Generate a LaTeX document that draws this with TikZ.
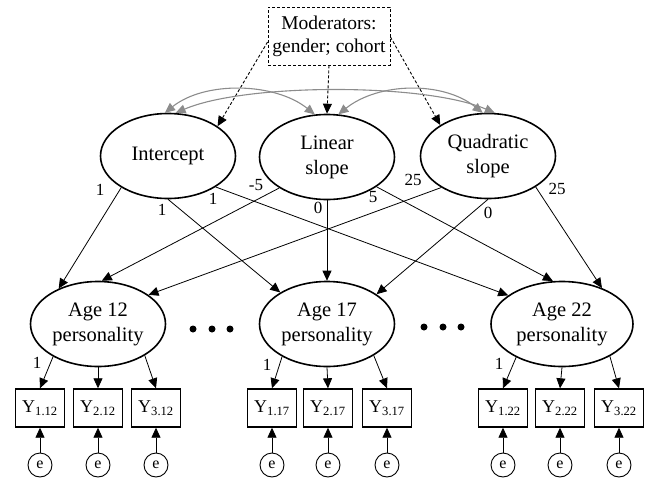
\documentclass[tikz,border=0pt]{standalone}
\usepackage{fontspec}
\setmainfont{Liberation Serif}
\usetikzlibrary{arrows.meta,shapes.geometric}
\definecolor{covgray}{RGB}{140,140,140}
\begin{document}
\begin{tikzpicture}[x=1pt,y=-1pt,
  lat/.style={ellipse,draw,line width=1.6pt,minimum width=135pt,minimum height=85pt,inner sep=0pt,align=center,font=\fontsize{20.5}{25}\selectfont},
  obs/.style={rectangle,draw,line width=1.4pt,minimum width=49pt,minimum height=38pt,inner sep=0pt,font=\fontsize{18}{20}\selectfont},
  err/.style={circle,draw,line width=0.9pt,minimum size=24pt,inner sep=0pt,font=\fontsize{16}{18}\selectfont},
  arr/.style={-{Triangle[length=10pt,width=9pt]},line width=0.8pt},
  cov/.style={{Triangle[length=10pt,width=9pt]}-{Triangle[length=10pt,width=9pt]},line width=1.1pt,draw=covgray,fill=none},
  modarr/.style={-{Triangle[length=10pt,width=9pt]},line width=0.9pt,dash pattern=on 3pt off 2pt},
  lbl/.style={font=\fontsize{17}{19}\selectfont,inner sep=0pt},
  dotnode/.style={circle,fill,minimum size=7pt,inner sep=0pt}]
\useasboundingbox (0,0) rectangle (651,482);

% moderators
\node[draw,dash pattern=on 3pt off 2pt,line width=0.9pt,minimum width=122pt,minimum height=58pt,align=center,inner sep=0pt,font=\fontsize{19.5}{23}\selectfont] (mod) at (329,36) {Moderators:\\gender; cohort};

% growth factors
\node[lat] (int) at (168,156) {Intercept};
\node[lat] (lin) at (327,157) {Linear\\slope};
\node[lat] (quad) at (488,156) {Quadratic\\slope};

% age latents
\node[lat] (a12) at (98,324) {Age 12\\personality};
\node[lat] (a17) at (327,324) {Age 17\\personality};
\node[lat,minimum width=142pt] (a22) at (562,324) {Age 22\\personality};

% dots
\node[dotnode] (d1) at (193,329) {};
\node[dotnode] (d2) at (212,329) {};
\node[dotnode] (d3) at (230,329) {};
\node[dotnode] (d4) at (424,327) {};
\node[dotnode] (d5) at (443,327) {};
\node[dotnode] (d6) at (461,327) {};

% observed
\node[obs] (y112) at (40,408) {Y\textsubscript{1.12}};
\node[obs] (y212) at (98,408) {Y\textsubscript{2.12}};
\node[obs] (y312) at (156,408) {Y\textsubscript{3.12}};
\node[obs] (y117) at (272,408) {Y\textsubscript{1.17}};
\node[obs] (y217) at (328,408) {Y\textsubscript{2.17}};
\node[obs] (y317) at (387,408) {Y\textsubscript{3.17}};
\node[obs] (y122) at (503,408) {Y\textsubscript{1.22}};
\node[obs] (y222) at (560,408) {Y\textsubscript{2.22}};
\node[obs] (y322) at (619,408) {Y\textsubscript{3.22}};

% errors
\foreach \n/\x in {112/40,212/98,312/156,117/272,217/328,317/387,122/503,222/560,322/619}{
  \node[err] (e\n) at (\x,465) {e};
  \draw[arr] (e\n) -- (y\n);
}

% moderator arrows
\path (mod.west) ++(0,6) coordinate (mw);
\path (mod.east) ++(0,1) coordinate (me);
\draw[modarr] (mw) -- (int.31);
\draw[modarr] (mod.south) -- (lin.north);
\draw[modarr] (me) -- (quad.147);

% covariances
\draw[cov] (int.94) .. controls +(40,-32) and +(-40,-32) .. (lin.106);
\draw[cov] (lin.75) .. controls +(40,-32) and +(-40,-32) .. (quad.97);
\draw[cov] (int.80) .. controls +(70,-30) and +(-70,-30) .. (quad.81);

% loadings growth -> ages
\draw[arr] (int.214) -- (a12.138);
\draw[arr] (int.270) -- (a17.146);
\draw[arr] (int.327) -- (a22.152);
\draw[arr] (lin.213) -- (a12.85);
\draw[arr] (lin.270) -- (a17.90);
\draw[arr] (lin.329) -- (a22.102);
\draw[arr] (quad.214) -- (a12.30);
\draw[arr] (quad.270) -- (a17.31);
\draw[arr] (quad.327) -- (a22.42);

\node[lbl] (l1) at (100,190) {1};
\node[lbl] (l2) at (162,210) {1};
\node[lbl] (l3) at (213,199) {1};
\node[lbl] (l4) at (256,185) {-5};
\node[lbl] (l5) at (318,208) {0};
\node[lbl] (l6) at (373,197) {5};
\node[lbl] (l7) at (413,180) {25};
\node[lbl] (l8) at (488,213) {0};
\node[lbl] (l9) at (557,189) {25};

% measurement arrows
\foreach \a/\n in {a12/12,a17/17,a22/22}{
  \draw[arr] (\a.216) -- (y1\n.north);
  \draw[arr] (\a.270) -- (y2\n.north);
  \draw[arr] (\a.326) -- (y3\n.north);
}
\node[lbl] (m1) at (37,363) {1};
\node[lbl] (m2) at (267,365) {1};
\node[lbl] (m3) at (499,364) {1};
\end{tikzpicture}
\end{document}
